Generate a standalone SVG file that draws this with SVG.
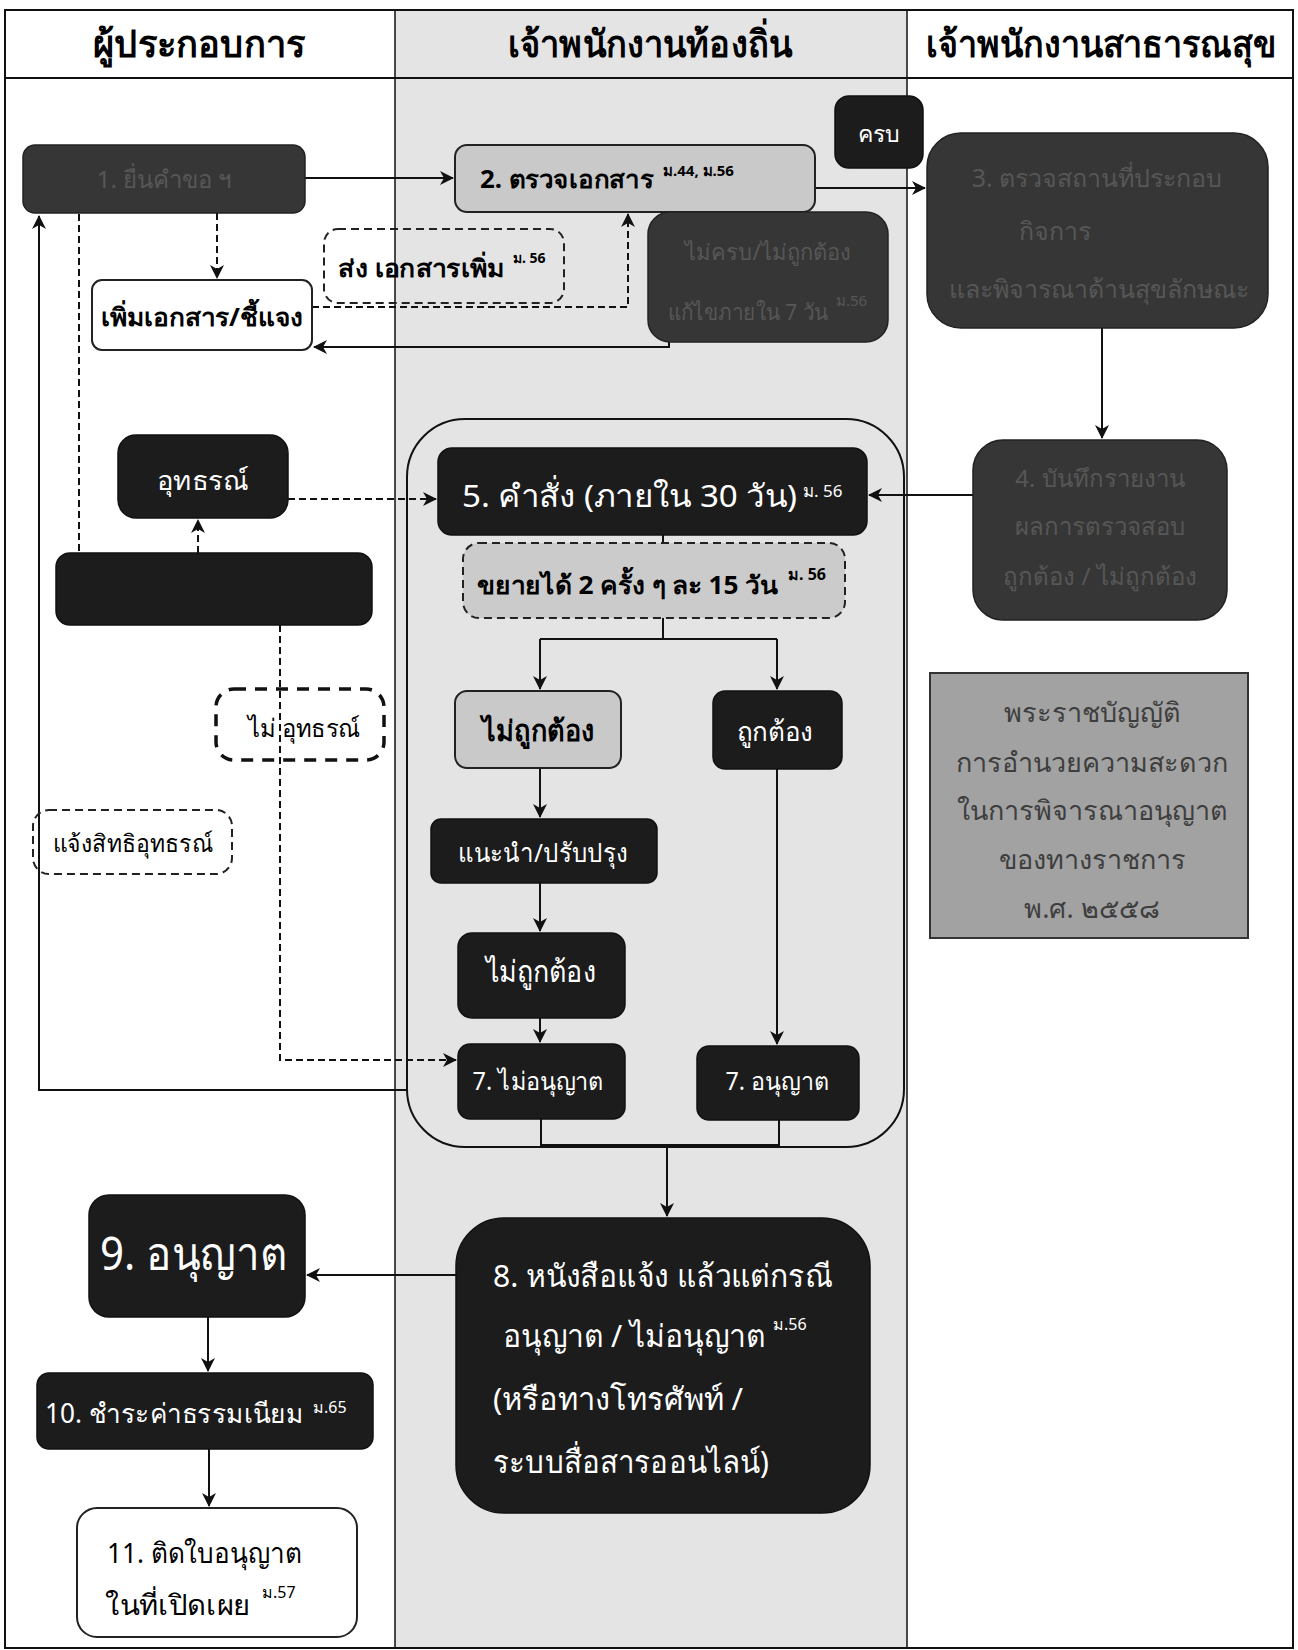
<svg xmlns="http://www.w3.org/2000/svg" width="1298" height="1650" viewBox="0 0 1298 1650">
<style>
text{font-family:"Noto Sans","DejaVu Sans","Liberation Sans",sans-serif}
.w{fill:#ffffff}
.k{fill:#000000}
.b{font-weight:bold}
.dark{fill:#1c1c1c;stroke:#111;stroke-width:1.5}
.mid{fill:#363636;stroke:#222;stroke-width:1.5}
.light{fill:#c9c9c9;stroke:#222;stroke-width:2}
.white{fill:#ffffff;stroke:#222;stroke-width:2}
.dash{fill:none;stroke:#222;stroke-width:2;stroke-dasharray:8 5}
.dashthick{fill:none;stroke:#111;stroke-width:3.5;stroke-dasharray:12 9}
.ln{fill:none;stroke:#111;stroke-width:2}
.lnd{fill:none;stroke:#111;stroke-width:2;stroke-dasharray:7 4}
.ghost{fill:#575757}
.sup{font-size:15px}
.hd{font-size:31px;font-weight:bold;fill:#000}
</style>
<defs>
<marker id="ah" markerWidth="14" markerHeight="14" refX="13" refY="7" orient="auto" markerUnits="userSpaceOnUse">
<path d="M0,0 L14,7 L0,14 L4,7 z" fill="#111"/>
</marker>
</defs>
<!-- lanes -->
<g id="lanes">
<rect x="0" y="0" width="1298" height="1650" fill="#ffffff"/>
<rect x="395" y="10" width="512" height="1638" fill="#e4e4e4"/>
<rect x="5" y="10" width="1288" height="1638" fill="none" stroke="#111" stroke-width="2"/>
<line x1="5" y1="78" x2="1293" y2="78" stroke="#111" stroke-width="2"/>
<line x1="395" y1="10" x2="395" y2="1648" stroke="#111" stroke-width="1.5"/>
<line x1="907" y1="10" x2="907" y2="1648" stroke="#111" stroke-width="1.5"/>
<text transform="translate(199,57) scale(1,1.2)" text-anchor="middle" class="hd" textLength="212" lengthAdjust="spacingAndGlyphs">ผู้ประกอบการ</text>
<text transform="translate(650,57) scale(1,1.2)" text-anchor="middle" class="hd" textLength="284" lengthAdjust="spacingAndGlyphs">เจ้าพนักงานท้องถิ่น</text>
<text transform="translate(1101,57) scale(1,1.2)" text-anchor="middle" class="hd" textLength="350" lengthAdjust="spacingAndGlyphs">เจ้าพนักงานสาธารณสุข</text>
</g>
<!-- container -->
<rect id="container" x="407" y="419" width="497" height="728" rx="58" fill="none" stroke="#111" stroke-width="2"/>
<!-- connectors -->
<g id="connectors">
<path class="ln" d="M305,178 H453" marker-end="url(#ah)"/>
<path class="ln" d="M815,188 H925" marker-end="url(#ah)"/>
<path class="ln" d="M1102,328 V438" marker-end="url(#ah)"/>
<path class="ln" d="M973,495 H869" marker-end="url(#ah)"/>
<path class="lnd" d="M288,499 H436" marker-end="url(#ah)"/>
<path class="lnd" d="M217,213 V278" marker-end="url(#ah)"/>
<path class="lnd" d="M312,307 H628 V214" marker-end="url(#ah)"/>
<path class="ln" d="M669,342 V347 H314" marker-end="url(#ah)"/>
<path class="lnd" d="M79,214 V553"/>
<path class="lnd" d="M198,553 V520" marker-end="url(#ah)"/>
<path class="lnd" d="M280,625 V1060 H456" marker-end="url(#ah)"/>
<path class="ln" d="M407,1090 H39 V216" marker-end="url(#ah)"/>
<path class="ln" d="M663,535 V639"/>
<path class="ln" d="M540,639 H777"/>
<path class="ln" d="M540,639 V689" marker-end="url(#ah)"/>
<path class="ln" d="M777,639 V689" marker-end="url(#ah)"/>
<path class="ln" d="M540,768 V817" marker-end="url(#ah)"/>
<path class="ln" d="M540,883 V931" marker-end="url(#ah)"/>
<path class="ln" d="M540,1018 V1042" marker-end="url(#ah)"/>
<path class="ln" d="M777,769 V1044" marker-end="url(#ah)"/>
<path class="ln" d="M541,1119 V1145 H779 V1120"/>
<path class="ln" d="M667,1145 V1216" marker-end="url(#ah)"/>
<path class="ln" d="M456,1275 H307" marker-end="url(#ah)"/>
<path class="ln" d="M208,1317 V1371" marker-end="url(#ah)"/>
<path class="ln" d="M209,1449 V1506" marker-end="url(#ah)"/>
</g>
<!-- nodes -->
<g id="n1">
<rect class="mid" x="23" y="145" width="282" height="68" rx="12"/>
<text x="164" y="188" text-anchor="middle" class="ghost" font-size="24">1. ยื่นคำขอ ฯ</text>
</g>
<g id="n2">
<rect class="light" x="455" y="145" width="360" height="67" rx="12"/>
<text x="480" y="188" class="k b" font-size="25" textLength="173" lengthAdjust="spacingAndGlyphs">2. ตรวจเอกสาร</text>
<text x="663" y="176" class="k b sup" font-size="14">ม.44, ม.56</text>
</g>
<g id="crop">
<rect class="dark" x="835" y="96" width="88" height="72" rx="14"/>
<text x="879" y="142" text-anchor="middle" class="w" font-size="23">ครบ</text>
</g>
<g id="n_incomplete">
<rect class="mid" x="648" y="212" width="240" height="130" rx="22"/>
<text x="768" y="260" text-anchor="middle" class="ghost" font-size="22">ไม่ครบ/ไม่ถูกต้อง</text>
<text x="668" y="320" class="ghost" font-size="22" textLength="160" lengthAdjust="spacingAndGlyphs">แก้ไขภายใน 7 วัน</text>
<text x="836" y="306" class="ghost sup">ม.56</text>
</g>
<g id="n_send">
<rect class="dash" x="324" y="229" width="240" height="74" rx="14"/>
<text x="338" y="277" class="k b" font-size="24" textLength="167" lengthAdjust="spacingAndGlyphs">ส่ง เอกสารเพิ่ม</text>
<text x="513" y="263" class="k b" font-size="14">ม. 56</text>
</g>
<g id="n_add">
<rect class="white" x="92" y="280" width="220" height="70" rx="10"/>
<text x="202" y="326" text-anchor="middle" class="k b" font-size="25" textLength="202" lengthAdjust="spacingAndGlyphs">เพิ่มเอกสาร/ชี้แจง</text>
</g>
<g id="n3">
<rect class="mid" x="927" y="133" width="341" height="195" rx="34"/>
<text x="1097" y="187" text-anchor="middle" class="ghost" font-size="25">3. ตรวจสถานที่ประกอบ</text>
<text x="1055" y="240" text-anchor="middle" class="ghost" font-size="25">กิจการ</text>
<text x="1099" y="298" text-anchor="middle" class="ghost" font-size="25">และพิจารณาด้านสุขลักษณะ</text>
</g>
<g id="n4">
<rect class="mid" x="973" y="440" width="254" height="180" rx="30"/>
<text x="1100" y="487" text-anchor="middle" class="ghost" font-size="24">4. บันทึกรายงาน</text>
<text x="1100" y="535" text-anchor="middle" class="ghost" font-size="24">ผลการตรวจสอบ</text>
<text x="1100" y="585" text-anchor="middle" class="ghost" font-size="24">ถูกต้อง / ไม่ถูกต้อง</text>
</g>
<g id="n_appeal">
<rect class="dark" x="118" y="435" width="170" height="83" rx="18"/>
<text x="203" y="490" text-anchor="middle" class="w" font-size="27" textLength="92" lengthAdjust="spacingAndGlyphs">อุทธรณ์</text>
</g>
<g id="n6">
<rect class="dark" x="56" y="553" width="316" height="72" rx="14"/>
</g>
<g id="n_noappeal">
<rect class="dashthick" x="216" y="689" width="168" height="71" rx="18"/>
<text x="248" y="737" class="k" font-size="25" textLength="112" lengthAdjust="spacingAndGlyphs">ไม่ อุทธรณ์</text>
</g>
<g id="n_right">
<rect class="dash" x="33" y="810" width="199" height="64" rx="16"/>
<text x="133" y="852" text-anchor="middle" class="k" font-size="24" textLength="160" lengthAdjust="spacingAndGlyphs">แจ้งสิทธิอุทธรณ์</text>
</g>
<g id="n5">
<rect class="dark" x="438" y="448" width="429" height="87" rx="14"/>
<text x="462" y="507" class="w" font-size="31" textLength="335" lengthAdjust="spacingAndGlyphs">5. คำสั่ง (ภายใน 30 วัน)</text>
<text x="803" y="497" class="w" font-size="17">ม. 56</text>
</g>
<g id="n_extend">
<rect x="463" y="543" width="382" height="75" rx="16" fill="#cbcbcb" stroke="#222" stroke-width="2" stroke-dasharray="8 5"/>
<text x="477" y="594" class="k b" font-size="25" textLength="301" lengthAdjust="spacingAndGlyphs">ขยายได้ 2 ครั้ง ๆ ละ 15 วัน</text>
<text x="788" y="580" class="k b" font-size="16">ม. 56</text>
</g>
<g id="n_incorrect1">
<rect class="light" x="455" y="691" width="166" height="77" rx="12"/>
<text x="538" y="741" text-anchor="middle" class="k b" font-size="29" textLength="112" lengthAdjust="spacingAndGlyphs">ไม่ถูกต้อง</text>
</g>
<g id="n_correct">
<rect class="dark" x="713" y="691" width="129" height="78" rx="12"/>
<text x="775" y="741" text-anchor="middle" class="w" font-size="27" textLength="76" lengthAdjust="spacingAndGlyphs">ถูกต้อง</text>
</g>
<g id="n_advise">
<rect class="dark" x="431" y="819" width="226" height="64" rx="10"/>
<text x="543" y="862" text-anchor="middle" class="w" font-size="26" textLength="170" lengthAdjust="spacingAndGlyphs">แนะนำ/ปรับปรุง</text>
</g>
<g id="n_incorrect2">
<rect class="dark" x="458" y="933" width="167" height="85" rx="14"/>
<text x="541" y="982" text-anchor="middle" class="w" font-size="30" textLength="110" lengthAdjust="spacingAndGlyphs">ไม่ถูกต้อง</text>
</g>
<g id="n7a">
<rect class="dark" x="458" y="1044" width="167" height="75" rx="12"/>
<text x="538" y="1090" text-anchor="middle" class="w" font-size="25" textLength="131" lengthAdjust="spacingAndGlyphs">7. ไม่อนุญาต</text>
</g>
<g id="n7b">
<rect class="dark" x="697" y="1046" width="162" height="74" rx="12"/>
<text x="777" y="1090" text-anchor="middle" class="w" font-size="25" textLength="103" lengthAdjust="spacingAndGlyphs">7. อนุญาต</text>
</g>
<g id="n8">
<rect class="dark" x="456" y="1218" width="414" height="295" rx="48"/>
<text x="493" y="1287" class="w" font-size="31" textLength="340" lengthAdjust="spacingAndGlyphs">8. หนังสือแจ้ง แล้วแต่กรณี</text>
<text x="503" y="1347" class="w" font-size="31" textLength="262" lengthAdjust="spacingAndGlyphs">อนุญาต / ไม่อนุญาต</text>
<text x="773" y="1330" class="w" font-size="16">ม.56</text>
<text x="493" y="1410" class="w" font-size="31" textLength="250" lengthAdjust="spacingAndGlyphs">(หรือทางโทรศัพท์ /</text>
<text x="493" y="1473" class="w" font-size="31" textLength="276" lengthAdjust="spacingAndGlyphs">ระบบสื่อสารออนไลน์)</text>
</g>
<g id="n9">
<rect class="dark" x="89" y="1195" width="216" height="122" rx="20"/>
<text x="100" y="1270" class="w" font-size="46" textLength="187" lengthAdjust="spacingAndGlyphs">9. อนุญาต</text>
</g>
<g id="n10">
<rect class="dark" x="37" y="1373" width="336" height="76" rx="12"/>
<text x="45" y="1423" class="w" font-size="27" textLength="258" lengthAdjust="spacingAndGlyphs">10. ชำระค่าธรรมเนียม</text>
<text x="313" y="1413" class="w" font-size="16">ม.65</text>
</g>
<g id="n11">
<rect class="white" x="77" y="1508" width="280" height="129" rx="20"/>
<text x="107" y="1563" class="k" font-size="28" textLength="195" lengthAdjust="spacingAndGlyphs">11. ติดใบอนุญาต</text>
<text x="105" y="1615" class="k" font-size="28" textLength="145" lengthAdjust="spacingAndGlyphs">ในที่เปิดเผย</text>
<text x="262" y="1598" class="k" font-size="16">ม.57</text>
</g>
<g id="n_act">
<rect x="930" y="673" width="318" height="265" fill="#a2a2a2" stroke="#333" stroke-width="2"/>
<text x="1092" y="722" text-anchor="middle" fill="#3e3e3e" font-size="27">พระราชบัญญัติ</text>
<text x="1092" y="772" text-anchor="middle" fill="#3e3e3e" font-size="27">การอำนวยความสะดวก</text>
<text x="1092" y="820" text-anchor="middle" fill="#3e3e3e" font-size="27">ในการพิจารณาอนุญาต</text>
<text x="1092" y="869" text-anchor="middle" fill="#3e3e3e" font-size="27">ของทางราชการ</text>
<text x="1092" y="918" text-anchor="middle" fill="#3e3e3e" font-size="27">พ.ศ. ๒๕๕๘</text>
</g>
</svg>
